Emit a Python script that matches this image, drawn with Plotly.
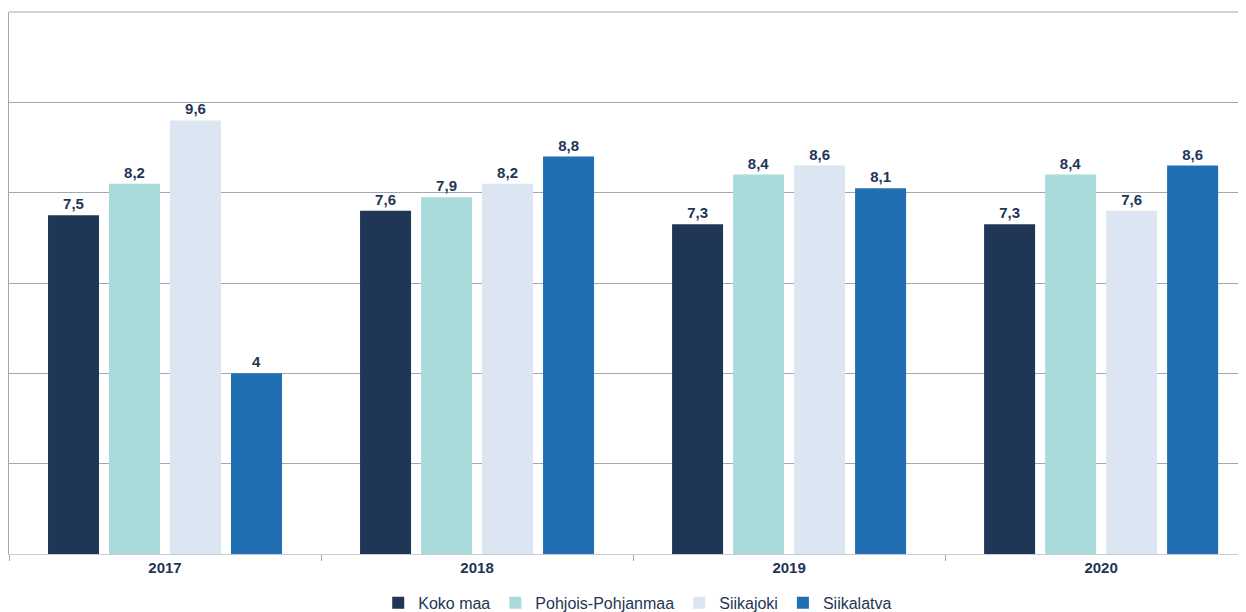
import plotly.graph_objects as go

years = ["2017", "2018", "2019", "2020"]
series_names = ["Koko maa", "Pohjois-Pohjanmaa", "Siikajoki", "Siikalatva"]
koko_maa = [7.5, 7.6, 7.3, 7.3]
pohjois_pohjanmaa = [8.2, 7.9, 8.4, 8.4]
siikajoki = [9.6, 8.2, 8.6, 7.6]
siikalatva = [4, 8.8, 8.1, 8.6]
colors = ["#1F3656", "#A9DBDB", "#DCE6F2", "#1F6FB2"]

values = [koko_maa, pohjois_pohjanmaa, siikajoki, siikalatva]

fig = go.Figure()
for name, vals, col in zip(series_names, values, colors):
    fig.add_trace(go.Bar(
        x=years, y=vals, name=name, marker=dict(color=col, line=dict(width=0)),
        texttemplate="%{y}", textposition="outside", cliponaxis=False,
        textfont=dict(family="Liberation Sans, Arial", size=15, color="#1F3656", weight="bold"),
    ))

fig.update_layout(
    width=1246, height=612,
    margin=dict(l=1, r=0, t=4, b=62),
    paper_bgcolor="white", plot_bgcolor="white",
    separators=", ",
    barmode="group", bargap=0.218, bargroupgap=0.164,
    font=dict(family="Liberation Sans, Arial", color="#1F3656"),
    showlegend=True,
    legend=dict(orientation="h", x=0.505, xanchor="center", y=-0.09, yanchor="middle",
                font=dict(size=16, color="#1F3656"), itemwidth=30, traceorder="normal"),
    shapes=[dict(type="line", xref="paper", yref="paper", x0=0, x1=1, y0=1, y1=1,
                 line=dict(color="#A0A8B8", width=1))],
)
fig.update_xaxes(
    range=[-0.5, 3.49], showgrid=False, showline=True, linecolor="#C8CCD4", linewidth=1,
    ticks="outside", tickson="boundaries", ticklen=6, tickcolor="#A0A8B8",
    tickfont=dict(size=15, color="#1F3656", weight="bold"),
)
fig.update_yaxes(
    range=[0, 12], dtick=2, showticklabels=False, showgrid=True,
    gridcolor="#A0A8B8", gridwidth=1, zeroline=False,
    showline=True, linecolor="#A0A8B8", linewidth=1, ticks="",
)
fig.write_html("out.html")
